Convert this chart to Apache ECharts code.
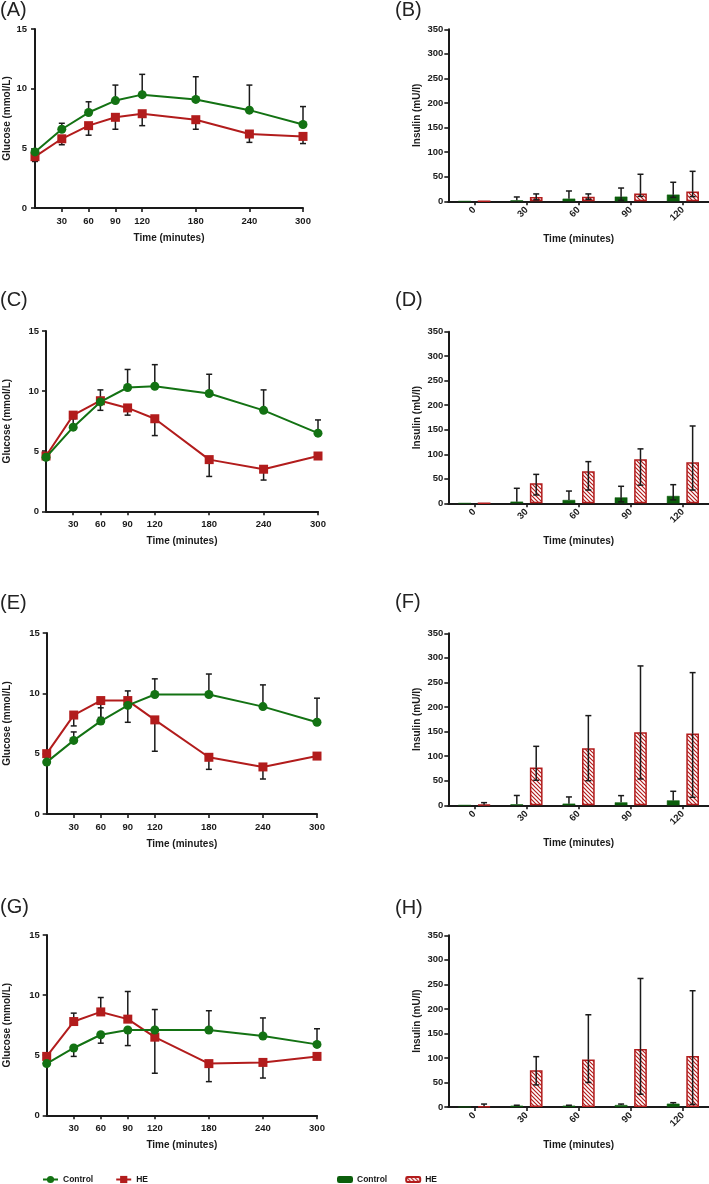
<!DOCTYPE html>
<html><head><meta charset="utf-8">
<script src="https://cdn.jsdelivr.net/npm/echarts@6/dist/echarts.min.js"></script>
<style>html,body{margin:0;padding:0;background:#fff}#c{width:709px;height:1184px}</style>
</head><body><div id="c"></div>
<script>
// ---------- DATA ----------
const glucoseTimes = [0, 30, 60, 90, 120, 180, 240, 300];
const glucoseTickLabels = [30, 60, 90, 120, 180, 240, 300];
const glucoseYTicks = [0, 5, 10, 15];
const insulinCategories = ['0', '30', '60', '90', '120'];
const insulinYTicks = [0, 50, 100, 150, 200, 250, 300, 350];
const panelLetters = ['(A)', '(B)', '(C)', '(D)', '(E)', '(F)', '(G)', '(H)'];
const seriesNames = ['Control', 'HE'];

// Glucose (mmol/L): mean and error-bar end value (null = not drawn)
const glucA_control = [4.7, 6.6, 8.0, 9.0, 9.5, 9.1, 8.2, 7.0];
const glucA_controlErr = [null, 7.1, 8.9, 10.3, 11.2, 11.0, 10.3, 8.5];
const glucA_he = [4.3, 5.8, 6.9, 7.6, 7.9, 7.4, 6.2, 6.0];
const glucA_heErr = [3.9, 5.3, 6.1, 6.6, 6.9, 6.6, 5.5, 5.4];

const glucC_control = [4.5, 7.0, 9.1, 10.3, 10.4, 9.8, 8.4, 6.5];
const glucC_controlErr = [null, 7.7, 10.1, 11.8, 12.2, 11.4, 10.1, 7.6];
const glucC_he = [4.6, 8.0, 9.2, 8.6, 7.7, 4.3, 3.5, 4.6];
const glucC_heErr = [null, null, 8.4, 8.0, 6.3, 2.9, 2.6, null];

const glucE_control = [4.3, 6.1, 7.7, 9.0, 9.9, 9.9, 8.9, 7.6];
const glucE_controlErr = [null, 6.8, 8.8, 10.2, 11.2, 11.6, 10.7, 9.6];
const glucE_he = [5.0, 8.2, 9.4, 9.4, 7.8, 4.7, 3.9, 4.8];
const glucE_heErr = [null, 7.3, 8.0, 7.6, 5.2, 3.7, 2.9, null];

const glucG_control = [4.3, 5.6, 6.7, 7.1, 7.1, 7.1, 6.6, 5.9];
const glucG_controlErr = [null, 4.9, 6.0, 5.8, 8.8, 8.7, 8.1, 7.2];
const glucG_he = [4.9, 7.8, 8.6, 8.0, 6.5, 4.3, 4.4, 4.9];
const glucG_heErr = [null, 8.5, 9.8, 10.3, 3.5, 2.8, 3.1, null];

// Insulin (mU/l): mean, upper and lower error-bar ends
const insB_control = [0, 2, 5.4, 9.5, 13.6];
const insB_controlHi = [null, 8.8, 21, 27, 38.7];
const insB_controlLo = [null, null, null, 2, 8];
const insB_he = [0, 8.8, 9.5, 16, 20];
const insB_heHi = [null, 15, 15, 55, 61];
const insB_heLo = [null, 3, 4, 10, 9.5];

const insD_control = [0, 3.4, 6.8, 12, 15];
const insD_controlHi = [null, 30.6, 25, 34.7, 38];
const insD_controlLo = [null, null, null, 3, 7];
const insD_he = [0, 40.8, 65.3, 89.7, 83.6];
const insD_heHi = [null, 59, 85, 111, 157.7];
const insD_heLo = [null, 17, 27, 37, 27];

const insF_control = [0, 2, 3.4, 6, 10];
const insF_controlHi = [null, 20, 17, 19.7, 28.5];
const insF_controlLo = [null, null, null, null, null];
const insF_he = [1, 76.7, 116, 148.6, 145.9];
const insF_heHi = [5.4, 120, 182.5, 283.6, 270];
const insF_heLo = [null, 51, 50, 53.6, 16.3];

const insH_control = [0, 2.7, 2.7, 4, 6.8];
const insH_controlHi = [null, 3.6, 3.6, 6, 8.8];
const insH_controlLo = [null, null, null, null, null];
const insH_he = [1.4, 74.8, 97, 118, 104];
const insH_heHi = [6, 102.6, 188, 262, 237];
const insH_heLo = [null, 45, 50, 26, 5.4];

// ---------- STYLE / LAYOUT ----------
const FONT = "'Liberation Sans', Arial, sans-serif";
const GREEN = '#137213';
const GREEN_BAR = '#0c5e0c';
const RED = '#b21c1c';
const INK = '#1a1a1a';
const BAR_W = 12.7, BAR_GAP = 6.7;

const glucosePanels = [
  {grid: {left: 35, top: 29, width: 268, height: 179}, nameGapY: 23, labMargin: 8,
   c: glucA_control, ce: glucA_controlErr, h: glucA_he, he: glucA_heErr},
  {grid: {left: 46, top: 331, width: 272, height: 180.3}, nameGapY: 34, labMargin: 7,
   c: glucC_control, ce: glucC_controlErr, h: glucC_he, he: glucC_heErr},
  {grid: {left: 46.7, top: 633, width: 270.3, height: 181}, nameGapY: 34, labMargin: 7,
   c: glucE_control, ce: glucE_controlErr, h: glucE_he, he: glucE_heErr},
  {grid: {left: 46.7, top: 935, width: 270.3, height: 180.3}, nameGapY: 34, labMargin: 7,
   c: glucG_control, ce: glucG_controlErr, h: glucG_he, he: glucG_heErr}
];
const insulinPanels = [
  {grid: {left: 448.3, top: 29.3, right: -1, height: 172},
   c: insB_control, cHi: insB_controlHi, cLo: insB_controlLo, h: insB_he, hHi: insB_heHi, hLo: insB_heLo},
  {grid: {left: 448.3, top: 331.7, right: -1, height: 171.6},
   c: insD_control, cHi: insD_controlHi, cLo: insD_controlLo, h: insD_he, hHi: insD_heHi, hLo: insD_heLo},
  {grid: {left: 448.3, top: 633.3, right: -1, height: 172},
   c: insF_control, cHi: insF_controlHi, cLo: insF_controlLo, h: insF_he, hHi: insF_heHi, hLo: insF_heLo},
  {grid: {left: 448.3, top: 935.3, right: -1, height: 171.7},
   c: insH_control, cHi: insH_controlHi, cLo: insH_controlLo, h: insH_he, hHi: insH_heHi, hLo: insH_heLo}
];
const letterPos = [[0, 0], [395, 0], [0, 290], [395, 290], [0, 593], [395, 592], [0, 897], [395, 898]];

function hatch(color) {
  const s = 4;
  const c = document.createElement('canvas');
  c.width = s; c.height = s;
  const g = c.getContext('2d');
  g.fillStyle = '#fff'; g.fillRect(0, 0, s, s);
  g.strokeStyle = color; g.lineWidth = 1.2;
  g.beginPath();
  g.moveTo(-1, -1); g.lineTo(s + 1, s + 1);
  g.moveTo(-1, s - 1); g.lineTo(1, s + 1);
  g.moveTo(s - 1, -1); g.lineTo(s + 1, 1);
  g.stroke();
  return c;
}
const hatchRed = hatch(RED);

const axisLineStyle = {show: true, lineStyle: {color: INK, width: 2}};
const tickStyle = {show: true, length: 4, lineStyle: {color: INK, width: 1.6}};
const tickLabelStyle = {color: INK, fontFamily: FONT, fontWeight: 'bold', fontSize: 9.5};
const nameStyle = {color: INK, fontFamily: FONT, fontWeight: 'bold', fontSize: 10};

const grids = [], xAxes = [], yAxes = [], series = [];

function errBarRender(offsetSign) {
  return function (params, api) {
    const x = api.value(0), v = api.value(1), hi = api.value(2), lo = api.value(3);
    const children = [];
    const p = api.coord([x, v]);
    const dx = offsetSign * (BAR_W + BAR_GAP) / 2;
    const cx = p[0] + dx;
    const cap = 3;
    [hi, lo].forEach(function (e) {
      if (e === null || e === undefined || isNaN(e)) return;
      const q = api.coord([x, e]);
      children.push({type: 'line', shape: {x1: cx, y1: p[1], x2: cx, y2: q[1]},
        style: {stroke: INK, lineWidth: 1.5}});
      children.push({type: 'line', shape: {x1: cx - cap, y1: q[1], x2: cx + cap, y2: q[1]},
        style: {stroke: INK, lineWidth: 1.5}});
    });
    return {type: 'group', children: children};
  };
}

// Glucose panels
glucosePanels.forEach(function (pnl, i) {
  const gi = grids.length;
  grids.push(pnl.grid);
  xAxes.push({
    gridIndex: gi, type: 'value', min: 0, max: 300,
    name: 'Time (minutes)', nameLocation: 'middle', nameGap: 25, nameTextStyle: nameStyle,
    axisLine: axisLineStyle,
    axisTick: Object.assign({customValues: glucoseTickLabels}, tickStyle),
    axisLabel: Object.assign({customValues: glucoseTickLabels, margin: 8}, tickLabelStyle),
    splitLine: {show: false}
  });
  yAxes.push({
    gridIndex: gi, type: 'value', min: 0, max: 15, interval: 5,
    name: 'Glucose (mmol/L)', nameLocation: 'middle', nameGap: pnl.nameGapY, nameTextStyle: nameStyle,
    axisLine: axisLineStyle, axisTick: tickStyle,
    axisLabel: Object.assign({customValues: glucoseYTicks, margin: pnl.labMargin}, tickLabelStyle),
    splitLine: {show: false}
  });
  const mk = function (arr) { return glucoseTimes.map(function (t, k) { return [t, arr[k]]; }); };
  const mkErr = function (vals, errs) {
    const out = [];
    glucoseTimes.forEach(function (t, k) { if (errs[k] !== null) out.push([t, vals[k], errs[k], null]); });
    return out;
  };
  series.push({type: 'custom', xAxisIndex: gi, yAxisIndex: gi, z: 1, silent: true, clip: false,
    renderItem: errBarRender(0), data: mkErr(pnl.h, pnl.he), encode: {x: 0, y: 1}});
  series.push({type: 'custom', xAxisIndex: gi, yAxisIndex: gi, z: 1, silent: true, clip: false,
    renderItem: errBarRender(0), data: mkErr(pnl.c, pnl.ce), encode: {x: 0, y: 1}});
  series.push({name: 'HE', type: 'line', xAxisIndex: gi, yAxisIndex: gi, z: 3, clip: false,
    data: mk(pnl.h), symbol: 'rect', symbolSize: 9, itemStyle: {color: RED},
    lineStyle: {color: RED, width: 2}, animation: false});
  series.push({name: 'Control', type: 'line', xAxisIndex: gi, yAxisIndex: gi, z: 4, clip: false,
    data: mk(pnl.c), symbol: 'circle', symbolSize: 9, itemStyle: {color: GREEN},
    lineStyle: {color: GREEN, width: 2}, animation: false});
});

// Insulin panels
insulinPanels.forEach(function (pnl, i) {
  const gi = grids.length;
  grids.push(pnl.grid);
  xAxes.push({
    gridIndex: gi, type: 'category', data: insulinCategories, boundaryGap: true,
    name: 'Time (minutes)', nameLocation: 'middle', nameGap: 33, nameTextStyle: nameStyle,
    axisLine: axisLineStyle,
    axisTick: Object.assign({alignWithLabel: true}, tickStyle),
    axisLabel: Object.assign({rotate: 45, margin: 7, interval: 0}, tickLabelStyle)
  });
  yAxes.push({
    gridIndex: gi, type: 'value', min: 0, max: 350, interval: 50,
    name: 'Insulin (mU/l)', nameLocation: 'middle', nameGap: 26, nameTextStyle: nameStyle,
    axisLine: axisLineStyle, axisTick: tickStyle,
    axisLabel: Object.assign({margin: 5}, tickLabelStyle),
    splitLine: {show: false}
  });
  const errData = function (vals, his, los) {
    return insulinCategories.map(function (c, k) { return [k, vals[k], his[k], los[k]]; });
  };
  series.push({name: 'Insulin Control', type: 'bar', xAxisIndex: gi, yAxisIndex: gi,
    data: pnl.c, barWidth: BAR_W, barGap: (BAR_GAP / BAR_W * 100).toFixed(0) + '%',
    itemStyle: {color: GREEN_BAR, borderColor: GREEN_BAR, borderWidth: 0.5}, animation: false, z: 2});
  series.push({name: 'Insulin HE', type: 'bar', xAxisIndex: gi, yAxisIndex: gi,
    data: pnl.h, barWidth: BAR_W,
    itemStyle: {color: {image: hatchRed, repeat: 'repeat'}, borderColor: RED, borderWidth: 1.5},
    animation: false, z: 2});
  series.push({type: 'custom', xAxisIndex: gi, yAxisIndex: gi, z: 5, silent: true, clip: false,
    renderItem: errBarRender(-1), data: errData(pnl.c, pnl.cHi, pnl.cLo), encode: {x: 0, y: 1}});
  series.push({type: 'custom', xAxisIndex: gi, yAxisIndex: gi, z: 5, silent: true, clip: false,
    renderItem: errBarRender(1), data: errData(pnl.h, pnl.hHi, pnl.hLo), encode: {x: 0, y: 1}});
});

const graphics = panelLetters.map(function (t, i) {
  return {type: 'text', left: letterPos[i][0], top: letterPos[i][1],
    style: {text: t, font: '20px ' + FONT, fill: '#222'}};
});

const legendText = {color: INK, fontFamily: FONT, fontWeight: 'bold', fontSize: 8.5};
const option = {
  backgroundColor: '#fff',
  animation: false,
  grid: grids, xAxis: xAxes, yAxis: yAxes, series: series,
  graphic: graphics,
  legend: [
    {left: 37, top: 1170, itemWidth: 15, itemHeight: 9, itemGap: 22, selectedMode: false,
     data: seriesNames, textStyle: legendText},
    {left: 332, top: 1170, itemWidth: 14, itemHeight: 5, itemGap: 18, selectedMode: false,
     data: seriesNames.map(function (n) { return 'Insulin ' + n; }),
     formatter: function (n) { return n.replace('Insulin ', ''); }, textStyle: legendText}
  ]
};
const chart = echarts.init(document.getElementById('c'), null, {renderer: 'canvas'});
chart.setOption(option);
</script>
</body></html>
